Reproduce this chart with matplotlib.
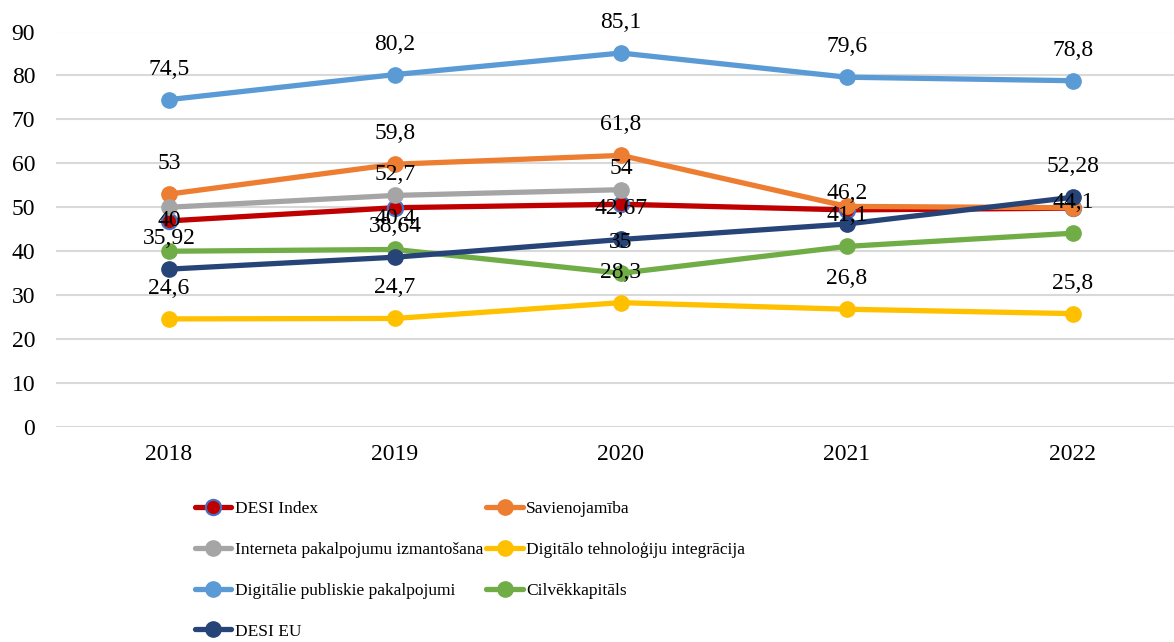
import numpy as np
import matplotlib
matplotlib.use("Agg")
import matplotlib.pyplot as plt

plt.rcParams["font.family"] = ["Liberation Serif", "DejaVu Serif"]

years = ["2018", "2019", "2020", "2021", "2022"]

desi_index = [46.9, 49.9, 50.7, 49.4, 49.8]
savienojamiba = [53, 59.8, 61.8, 50.2, 49.9]
interneta = [50, 52.7, 54, np.nan, np.nan]
digitalo_teh = [24.6, 24.7, 28.3, 26.8, 25.8]
digitalie_pak = [74.5, 80.2, 85.1, 79.6, 78.8]
cilvekkapitals = [40, 40.4, 35, 41.1, 44.1]
desi_eu = [35.92, 38.64, 42.67, 46.2, 52.28]

# which points carry a data label in the original
desi_index_lab = [False, False, False, False, False]
savienojamiba_lab = [True, True, True, False, False]
interneta_lab = [False, True, True, False, False]
digitalo_lab = [True, True, True, True, True]
digitalie_lab = [True, True, True, True, True]
cilvek_lab = [True, True, True, True, True]
desi_eu_lab = [True, True, True, True, True]

series = [
    ("DESI Index", desi_index, desi_index_lab, "#C00000", "#4472C4", 22),
    ("Savienojamība", savienojamiba, savienojamiba_lab, "#ED7D31", None, 22),
    ("Interneta pakalpojumu izmantošana", interneta, interneta_lab, "#A5A5A5", None, 15),
    ("Digitālo tehnoloģiju integrācija", digitalo_teh, digitalo_lab, "#FFC000", None, 22),
    ("Digitālie publiskie pakalpojumi", digitalie_pak, digitalie_lab, "#5B9BD5", None, 22),
    ("Cilvēkkapitāls", cilvekkapitals, cilvek_lab, "#70AD47", None, 22),
    ("DESI EU", desi_eu, desi_eu_lab, "#264478", None, 22),
]

fig = plt.figure(figsize=(11.74, 6.42), dpi=100)
ax = fig.add_axes([56 / 1174, 1 - 427 / 642, 1 - 56 / 1174, (427 - 31.5) / 642])

x = np.arange(len(years))
handles = {}
for name, vals, labs, color, edge, off in series:
    line, = ax.plot(x, vals, color=color, lw=3.8, marker="o", markersize=11,
                    markerfacecolor=color,
                    markeredgecolor=edge if edge else color,
                    markeredgewidth=1.5 if edge else 1, label=name, zorder=3,
                    solid_capstyle="round")
    handles[name] = line
    for xi, v, show in zip(x, vals, labs):
        if show and not np.isnan(v):
            ax.annotate(f"{v:g}".replace(".", ","), (xi, v), xytext=(0, off),
                        textcoords="offset points", ha="center", va="center",
                        fontsize=17, zorder=5)

ax.set_ylim(0, 90)
ax.set_yticks(range(0, 91, 10))
ax.set_xlim(-0.5, (1174 - 169) / 226)
ax.set_xticks(x)
ax.set_xticklabels(years)
ax.tick_params(axis="both", length=0, labelsize=17)
ax.tick_params(axis="y", pad=15)
ax.tick_params(axis="x", pad=12)
ax.grid(axis="y", color="#D9D9D9", lw=1.5)
ax.set_axisbelow(True)
for s in ax.spines.values():
    s.set_visible(False)

# Excel fills the legend row by row; matplotlib fills columns
order = ["DESI Index", "Interneta pakalpojumu izmantošana",
         "Digitālie publiskie pakalpojumi", "DESI EU",
         "Savienojamība", "Digitālo tehnoloģiju integrācija", "Cilvēkkapitāls"]
fig.legend([handles[n] for n in order], order, ncol=2, loc="upper left",
           bbox_to_anchor=(195 / 1174, 1 - 501 / 642), frameon=False,
           fontsize=12.5, borderpad=0, borderaxespad=0, handlelength=2.1,
           handletextpad=0.18, columnspacing=0.2, labelspacing=1.42)

fig.savefig("out.png", dpi=100)
